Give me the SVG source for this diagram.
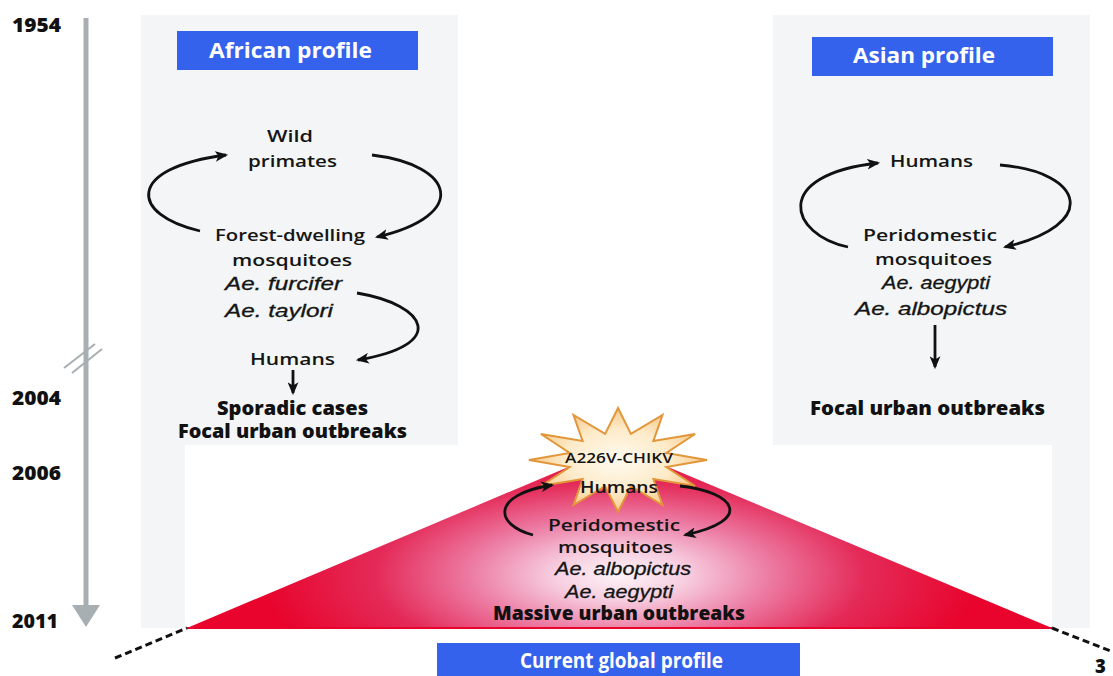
<svg xmlns="http://www.w3.org/2000/svg" width="1113" height="676" viewBox="0 0 1113 676">
<style>
.t{font-family:"Open Sans","Liberation Sans",sans-serif;font-size:17px;font-weight:600;fill:#151515;text-anchor:middle}
.b{font-family:"Open Sans","Liberation Sans",sans-serif;font-size:18.5px;font-weight:800;fill:#111;text-anchor:middle}
.i{font-family:"Liberation Sans",Arial,sans-serif;font-size:17.5px;font-style:italic;fill:#151515;text-anchor:middle;stroke:#151515;stroke-width:0.3}
.yr{font-family:"Open Sans","Liberation Sans",sans-serif;font-size:18.5px;font-weight:800;fill:#111}
.lab{font-family:"Open Sans","Liberation Sans",sans-serif;font-size:21px;font-weight:700;fill:#fff;text-anchor:middle}
.panel{fill:#f3f5f6}
.blue{fill:#3562ec}
.arc{fill:none;stroke:#111;stroke-width:2.8}
.dash{stroke:#111;stroke-width:3;stroke-dasharray:7 4;fill:none}
</style>
<defs>
<marker id="ah" viewBox="0 0 12 10" refX="10" refY="5" markerWidth="13" markerHeight="11" markerUnits="userSpaceOnUse" orient="auto">
<path d="M0,0 L12,5 L0,10 L3,5 z" fill="#111"/>
</marker>
<radialGradient id="tri" gradientUnits="userSpaceOnUse" cx="620" cy="575" r="360" gradientTransform="translate(620 575) scale(1 0.38) translate(-620 -575)">
<stop offset="0" stop-color="#fdf4f8"/>
<stop offset="0.18" stop-color="#f7cfe0"/>
<stop offset="0.42" stop-color="#ec7aa2"/>
<stop offset="0.68" stop-color="#e42a58"/>
<stop offset="1" stop-color="#e8042c"/>
</radialGradient>
<radialGradient id="star" cx="0.5" cy="0.5" r="0.5">
<stop offset="0" stop-color="#fffaf0"/>
<stop offset="0.6" stop-color="#fdebc9"/>
<stop offset="1" stop-color="#f7c98a"/>
</radialGradient>
</defs>

<rect width="1113" height="676" fill="#fff"/>

<g id="backgrounds">
<rect class="panel" x="141" y="15" width="317" height="430"/>
<rect class="panel" x="141" y="445" width="44" height="183"/>
<rect class="panel" x="773" y="15" width="317" height="430"/>
<rect class="panel" x="1052" y="445" width="38" height="183"/>
</g>

<g id="timeline">
<line x1="86" y1="18" x2="86" y2="607" stroke="#a8afb3" stroke-width="5"/>
<polygon points="72,605 100,605 86,627" fill="#a8afb3"/>
<line x1="64" y1="368" x2="95" y2="344" stroke="#a8afb3" stroke-width="2"/>
<line x1="72" y1="373" x2="102" y2="349" stroke="#a8afb3" stroke-width="2"/>
<text class="yr" x="12" y="32" textLength="49" lengthAdjust="spacingAndGlyphs">1954</text>
<text class="yr" x="12" y="405" textLength="49" lengthAdjust="spacingAndGlyphs">2004</text>
<text class="yr" x="12" y="480" textLength="49" lengthAdjust="spacingAndGlyphs">2006</text>
<text class="yr" x="12" y="628" textLength="46" lengthAdjust="spacingAndGlyphs">2011</text>
</g>

<g id="global-triangle">
<polygon points="187,628 618,446 1052,628" fill="url(#tri)"/>
<line x1="187" y1="628" x2="1052" y2="628" stroke="#e8042c" stroke-width="2"/>
</g>

<g id="mutation-star">
<polygon fill="url(#star)" stroke="#e2963a" stroke-width="2" stroke-linejoin="miter" points="618,408 630.9,433.9 662.5,415 653.4,440.9 695.1,434 666.3,453 707,460 666.3,467 695.1,486 653.4,479.1 662.5,505 630.9,486.1 618,512 605.1,486.1 573.5,505 582.6,479.1 540.9,486 569.7,467 529,460 569.7,453 540.9,434 582.6,440.9 573.5,415 605.1,433.9"/>
<text class="t" x="619" y="463" style="font-size:14px" textLength="108" lengthAdjust="spacingAndGlyphs">A226V-CHIKV</text>
</g>

<g id="connectors">
<path class="arc" d="M200,231 C130,215 125,168 226,155" marker-end="url(#ah)"/>
<path class="arc" d="M372,155 C455,165 470,215 377,237" marker-end="url(#ah)"/>
<path class="arc" d="M357,293 C428,305 448,345 358,360" marker-end="url(#ah)"/>
<line class="arc" x1="293" y1="370" x2="293" y2="393" marker-end="url(#ah)"/>
<path class="arc" d="M848,247 C790,235 770,175 878,163" marker-end="url(#ah)"/>
<path class="arc" d="M1000,165 C1085,172 1100,225 1005,247" marker-end="url(#ah)"/>
<line class="arc" x1="935" y1="325" x2="935" y2="367" marker-end="url(#ah)"/>
<path class="arc" d="M533,535 C495,525 490,495 552,485" marker-end="url(#ah)"/>
<path class="arc" d="M680,486 C735,492 755,520 685,535" marker-end="url(#ah)"/>
<line class="dash" x1="115" y1="658" x2="187" y2="628"/>
<line class="dash" x1="1052" y1="628" x2="1113" y2="652"/>
</g>

<g id="african-profile">
<rect class="blue" x="177" y="31" width="241" height="39"/>
<text class="lab" x="290.5" y="58" textLength="163" lengthAdjust="spacingAndGlyphs">African profile</text>
</g>
<g id="wild-primates">
<text class="t" x="290" y="142" textLength="46" lengthAdjust="spacingAndGlyphs">Wild</text>
<text class="t" x="292.5" y="167" textLength="89" lengthAdjust="spacingAndGlyphs">primates</text>
</g>
<g id="forest-mosquitoes">
<text class="t" x="290" y="241" textLength="150" lengthAdjust="spacingAndGlyphs">Forest-dwelling</text>
<text class="t" x="292" y="266" textLength="120" lengthAdjust="spacingAndGlyphs">mosquitoes</text>
<text class="i" x="283.5" y="290" textLength="117" lengthAdjust="spacingAndGlyphs">Ae. furcifer</text>
<text class="i" x="279" y="317" textLength="108" lengthAdjust="spacingAndGlyphs">Ae. taylori</text>
</g>
<g id="african-humans">
<text class="t" x="292.5" y="365" textLength="85" lengthAdjust="spacingAndGlyphs">Humans</text>
</g>
<g id="african-outcome">
<text class="b" x="292.5" y="415" textLength="151" lengthAdjust="spacingAndGlyphs">Sporadic cases</text>
<text class="b" x="292.5" y="438" textLength="229" lengthAdjust="spacingAndGlyphs">Focal urban outbreaks</text>
</g>

<g id="asian-profile">
<rect class="blue" x="812" y="37" width="241" height="39"/>
<text class="lab" x="924" y="63" textLength="142" lengthAdjust="spacingAndGlyphs">Asian profile</text>
</g>
<g id="asian-humans">
<text class="t" x="931.5" y="167" textLength="83" lengthAdjust="spacingAndGlyphs">Humans</text>
</g>
<g id="asian-mosquitoes">
<text class="t" x="930" y="241" textLength="134" lengthAdjust="spacingAndGlyphs">Peridomestic</text>
<text class="t" x="933.5" y="265" textLength="117" lengthAdjust="spacingAndGlyphs">mosquitoes</text>
<text class="i" x="936" y="289" textLength="108" lengthAdjust="spacingAndGlyphs">Ae. aegypti</text>
<text class="i" x="931" y="315" textLength="152" lengthAdjust="spacingAndGlyphs">Ae. albopictus</text>
</g>
<g id="asian-outcome">
<text class="b" x="927.5" y="415" textLength="235" lengthAdjust="spacingAndGlyphs">Focal urban outbreaks</text>
</g>

<g id="global-humans">
<text class="t" x="619" y="493" textLength="78" lengthAdjust="spacingAndGlyphs">Humans</text>
</g>
<g id="global-mosquitoes">
<text class="t" x="614" y="531" textLength="132" lengthAdjust="spacingAndGlyphs">Peridomestic</text>
<text class="t" x="615.5" y="553" textLength="115" lengthAdjust="spacingAndGlyphs">mosquitoes</text>
<text class="i" x="623" y="575" textLength="136" lengthAdjust="spacingAndGlyphs">Ae. albopictus</text>
<text class="i" x="619" y="598" textLength="108" lengthAdjust="spacingAndGlyphs">Ae. aegypti</text>
</g>
<g id="global-outcome">
<text class="b" x="619" y="620" textLength="252" lengthAdjust="spacingAndGlyphs">Massive urban outbreaks</text>
</g>
<g id="global-profile">
<rect class="blue" x="437" y="643" width="363" height="33"/>
<text class="lab" x="621.5" y="668" textLength="203" lengthAdjust="spacingAndGlyphs">Current global profile</text>
</g>

<text class="yr" x="1095" y="673">3</text>
</svg>
